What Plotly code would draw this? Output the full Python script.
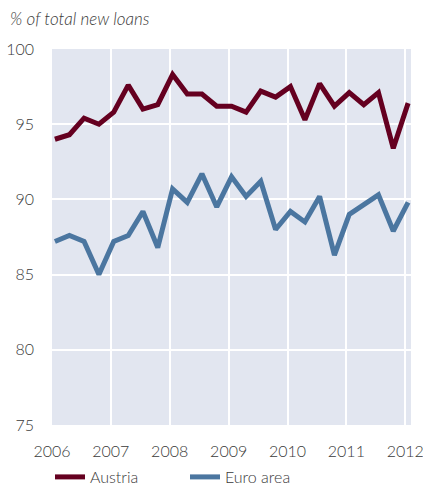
import pandas as pd
import plotly.graph_objects as go

quarters = [f"{y}Q{q}" for y in range(2006, 2012) for q in range(1, 5)] + ["2012Q1"]
austria = [94.0, 94.3, 95.4, 95.0, 95.8, 97.6, 96.0, 96.3, 98.3, 97.0, 97.0, 96.2,
           96.2, 95.8, 97.2, 96.8, 97.5, 95.3, 97.7, 96.2, 97.1, 96.3, 97.1, 93.4, 96.4]
euro_area = [87.2, 87.6, 87.2, 85.0, 87.2, 87.6, 89.2, 86.8, 90.7, 89.8, 91.7, 89.5,
             91.5, 90.2, 91.2, 88.0, 89.2, 88.5, 90.2, 86.3, 89.0, 89.6, 90.3, 87.9, 89.8]
year_ticks = [2006, 2007, 2008, 2009, 2010, 2011, 2012]
y_ticks = [75, 80, 85, 90, 95, 100]

dates = [(p.to_timestamp() + pd.Timedelta(days=18)).strftime("%Y-%m-%d")
         for p in pd.PeriodIndex(quarters, freq="Q")]

font_family = "Lato"
text_color = "#3a3a3a"

W, H = 423, 486
L, R, T, B = 52, 12, 49, 61
pw, ph = W - L - R, H - T - B

fig = go.Figure()
fig.add_trace(go.Scatter(x=dates, y=austria, mode="lines", name="Austria",
                         line=dict(color="#650020", width=5)))
fig.add_trace(go.Scatter(x=dates, y=euro_area, mode="lines", name="Euro area",
                         line=dict(color="#4b76a0", width=5)))

fig.add_annotation(text="% of total new loans", xref="paper", yref="paper",
                   x=(8 - L) / pw, xanchor="left", y=1 + (T - 18) / ph, yanchor="middle",
                   showarrow=False,
                   font=dict(family=font_family, size=17, style="italic", color=text_color, weight=300))

fig.update_layout(
    width=W, height=H,
    margin=dict(l=L, r=R, t=T, b=B, autoexpand=False),
    paper_bgcolor="white",
    plot_bgcolor="#e2e6f0",
    font=dict(family=font_family, color=text_color, size=16, weight=300),
    showlegend=True,
    legend=dict(orientation="h", xref="container", yref="container",
                x=50 / W, xanchor="left", y=1 - 477 / H, yanchor="middle",
                font=dict(size=16), entrywidth=90, entrywidthmode="pixels",
                bgcolor="rgba(0,0,0,0)"),
)
fig.update_xaxes(
    type="date",
    range=["2006-01-01", "2012-02-06"],
    tickvals=[f"{y}-01-01" for y in year_ticks],
    ticktext=[str(y) for y in year_ticks],
    showgrid=True, gridcolor="white", gridwidth=2,
    zeroline=False, showline=False, ticks="", ticklabelstandoff=15,
    ticklabeloverflow="allow",
    automargin=False,
)
fig.update_yaxes(
    range=[75, 100], tickvals=y_ticks,
    showgrid=True, gridcolor="white", gridwidth=2,
    zeroline=False, showline=False, ticks="", ticklabelstandoff=17,
    automargin=False,
)
fig.write_html("out.html",
               config={"displayModeBar": False},
               post_script="document.body.style.margin='0';document.body.style.overflow='hidden';")
